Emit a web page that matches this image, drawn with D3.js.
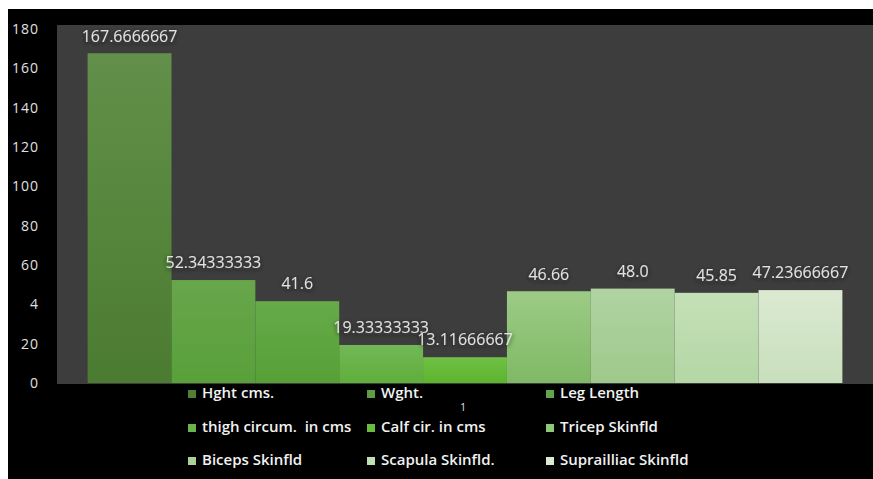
<!DOCTYPE html>
<html>
<head>
<meta charset="utf-8">
<script src="https://cdn.jsdelivr.net/npm/d3@7"></script>
<style>
  html, body { margin: 0; padding: 0; background: #ffffff; }
  svg { display: block; }
  text { font-family: "Open Sans", "DejaVu Sans", sans-serif; white-space: pre; }
</style>
</head>
<body>
<svg id="chart" width="873" height="479"></svg>
<script>
// Body measurement averages
const categories = [
  "Hght cms.", "Wght.", "Leg Length",
  "thigh circum.  in cms", "Calf cir. in cms", "Tricep Skinfld",
  "Biceps Skinfld", "Scapula Skinfld.", "Suprailliac Skinfld"
];
const values = [167.6666667, 52.34333333, 41.6, 19.33333333, 13.11666667, 46.66, 48.0, 45.85, 47.23666667];
const valueLabels = ["167.6666667", "52.34333333", "41.6", "19.33333333", "13.11666667", "46.66", "48.0", "45.85", "47.23666667"];
const tickValues = [0, 20, 40, 60, 80, 100, 120, 140, 160, 180];
const tickLabels = ["0", "20", "4", "60", "80", "100", "120", "140", "160", "180"];

// Green ramp, darker olive to pale mint (top / bottom of each bar)
const topColors = ["#62904a", "#68a64c", "#66aa4a", "#72b857", "#70c046", "#9ccb86", "#b0d3a2", "#c4e0b7", "#dbe9d1"];
const botColors = ["#4b7b30", "#58a03a", "#56a136", "#5fae3c", "#5cb42c", "#80b965", "#9fc98c", "#b4d7a5", "#c8dfbc"];
const swatchColors = ["#4f8037", "#5e9d44", "#61a647", "#69b44c", "#68bd3c", "#8ec975", "#a8d298", "#c0dfb2", "#dbead1"];

const svg = d3.select("#chart");
const W = 873, H = 479;

// frame
svg.append("rect").attr("x", 8).attr("y", 9).attr("width", W - 8).attr("height", H - 9).attr("fill", "#000000");

const plot = { left: 57, right: 873, top: 25, bottom: 384 };
svg.append("rect")
  .attr("x", plot.left).attr("y", plot.top)
  .attr("width", plot.right - plot.left).attr("height", plot.bottom - plot.top)
  .attr("fill", "#3d3d3d");

const x = d3.scaleBand()
  .domain(categories)
  .range([plot.left, plot.right])
  .paddingInner(0)
  .paddingOuter(0.365);

const y = d3.scaleLinear().domain([0, 180]).range([383, 29]);

const defs = svg.append("defs");
categories.forEach((c, i) => {
  const g = defs.append("linearGradient")
    .attr("id", "grad" + i)
    .attr("x1", 0).attr("y1", 0).attr("x2", 0).attr("y2", 1);
  g.append("stop").attr("offset", "0%").attr("stop-color", topColors[i]);
  g.append("stop").attr("offset", "100%").attr("stop-color", botColors[i]);
});
const shadow = defs.append("filter").attr("id", "lblShadow")
  .attr("x", "-20%").attr("y", "-40%").attr("width", "140%").attr("height", "180%");
shadow.append("feDropShadow")
  .attr("dx", 0).attr("dy", 1.5).attr("stdDeviation", 2)
  .attr("flood-color", "#1a1a1a").attr("flood-opacity", 0.9);

// bars
svg.append("g").selectAll("rect")
  .data(categories)
  .join("rect")
  .attr("x", d => x(d))
  .attr("y", (d, i) => y(values[i]))
  .attr("width", x.bandwidth())
  .attr("height", (d, i) => y(0) - y(values[i]))
  .attr("fill", (d, i) => `url(#grad${i})`);

// value labels
svg.append("g").selectAll("text")
  .data(categories)
  .join("text")
  .attr("x", d => x(d) + x.bandwidth() / 2)
  .attr("y", (d, i) => y(values[i]) - 16)
  .attr("text-anchor", "middle")
  .attr("dominant-baseline", "middle")
  .attr("fill", "#e2e2e2")
  .attr("font-size", 16)
  .attr("filter", "url(#lblShadow)")
  .text((d, i) => valueLabels[i]);

// y axis
const yAxis = d3.axisLeft(y)
  .tickValues(tickValues)
  .tickSize(0)
  .tickPadding(0)
  .tickFormat((d, i) => tickLabels[i]);
const ya = svg.append("g").attr("transform", "translate(39,0)").call(yAxis);
ya.select(".domain").remove();
ya.selectAll("text")
  .attr("fill", "#e0e0e0")
  .attr("font-size", 14)
  .attr("letter-spacing", 1)
  .attr("font-family", "\"Open Sans\", sans-serif");

// legend, three columns by three rows
const colX = [188, 367, 546];
const rowY = [394, 428, 461];
const legend = svg.append("g").selectAll("g")
  .data(categories)
  .join("g")
  .attr("transform", (d, i) => `translate(${colX[i % 3]},${rowY[Math.floor(i / 3)]})`);
legend.append("rect")
  .attr("x", 0).attr("y", -4)
  .attr("width", 8).attr("height", 8)
  .attr("fill", (d, i) => swatchColors[i]);
legend.append("text")
  .attr("x", 14).attr("y", 0)
  .attr("dominant-baseline", "middle")
  .attr("fill", "#f2f2f2")
  .attr("font-size", 15)
  .attr("font-weight", 600)
  .text(d => d);

// stray page marker
svg.append("text")
  .attr("x", 463).attr("y", 408)
  .attr("text-anchor", "middle")
  .attr("dominant-baseline", "middle")
  .attr("fill", "#e6e6e6")
  .attr("font-size", 10)
  .text("1");
</script>
</body>
</html>
